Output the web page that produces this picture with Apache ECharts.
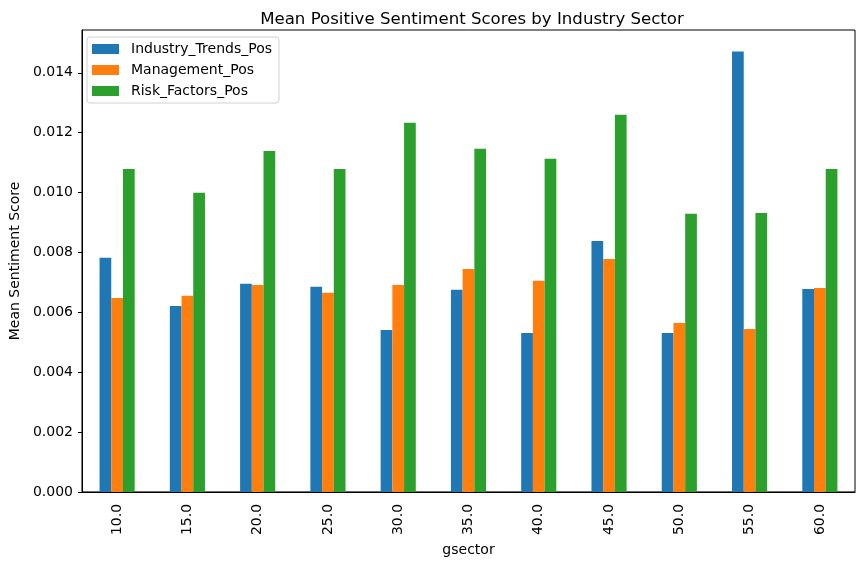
<!DOCTYPE html>
<html>
<head>
<meta charset="utf-8">
<script src="https://cdn.jsdelivr.net/npm/echarts@6/dist/echarts.min.js"></script>
<style>html,body{margin:0;padding:0;background:#fff;}#chart{width:864px;height:562px;}</style>
</head>
<body>
<div id="chart"></div>
<script>
const categories = ['10.0','15.0','20.0','25.0','30.0','35.0','40.0','45.0','50.0','55.0','60.0'];
const industryTrendsPos = [0.00782,0.00621,0.00695,0.00685,0.00541,0.00675,0.00531,0.00838,0.00531,0.01471,0.00678];
const managementPos     = [0.00648,0.00655,0.00691,0.00665,0.00691,0.00745,0.00705,0.00778,0.00564,0.00544,0.00681];
const riskFactorsPos    = [0.01079,0.00999,0.01139,0.01079,0.01233,0.01146,0.01113,0.01260,0.00929,0.00932,0.01079];
const yTicks = [0,0.002,0.004,0.006,0.008,0.010,0.012,0.014];

const font = 'DejaVu Sans';
const chart = echarts.init(document.getElementById('chart'), null, {renderer:'canvas'});
chart.setOption({
  animation:false,
  backgroundColor:'#fff',
  textStyle:{fontFamily:font},
  title:{text:'Mean Positive Sentiment Scores by Industry Sector',left:467,top:6,textAlign:'center',
    textStyle:{fontFamily:font,fontSize:16.6,fontWeight:'normal',color:'#000'}},
  legend:{orient:'vertical',left:87,top:37,itemWidth:27,itemHeight:10,itemGap:7,
    padding:[5,7,5,5],borderColor:'#d0d0d0',borderWidth:1,borderRadius:3,backgroundColor:'rgba(255,255,255,0.8)',
    icon:'rect',textStyle:{fontFamily:font,fontSize:14,color:'#000',padding:[0,0,0,7]},
    data:['Industry_Trends_Pos','Management_Pos','Risk_Factors_Pos']},
  grid:{left:79,right:9,top:30,bottom:70,show:true,borderColor:'#000',borderWidth:1,containLabel:false},
  xAxis:{type:'category',data:categories,name:'gsector',nameLocation:'middle',nameGap:49,
    nameTextStyle:{fontFamily:font,fontSize:14,color:'#000'},
    axisLine:{lineStyle:{color:'#000'}},axisTick:{alignWithLabel:true,length:4,lineStyle:{color:'#000'}},
    axisLabel:{rotate:90,fontFamily:font,fontSize:14,color:'#000',margin:12}},
  yAxis:{type:'value',min:0,max:0.01543,name:'Mean Sentiment Score',nameLocation:'middle',nameGap:57,
    nameTextStyle:{fontFamily:font,fontSize:14,color:'#000'},
    splitLine:{show:false},
    axisLine:{show:true,lineStyle:{color:'#000'}},
    axisTick:{show:true,length:4,lineStyle:{color:'#000'},customValues:yTicks},
    axisLabel:{fontFamily:font,fontSize:14,color:'#000',margin:9,customValues:yTicks,formatter:v=>v.toFixed(3)}},
  series:[
    {name:'Industry_Trends_Pos',type:'bar',data:industryTrendsPos,itemStyle:{color:'#1f77b4'},barGap:'0%',barCategoryGap:'50%'},
    {name:'Management_Pos',type:'bar',data:managementPos,itemStyle:{color:'#ff7f0e'},barGap:'0%',barCategoryGap:'50%'},
    {name:'Risk_Factors_Pos',type:'bar',data:riskFactorsPos,itemStyle:{color:'#2ca02c'},barGap:'0%',barCategoryGap:'50%'}
  ]
});
</script>
</body>
</html>
